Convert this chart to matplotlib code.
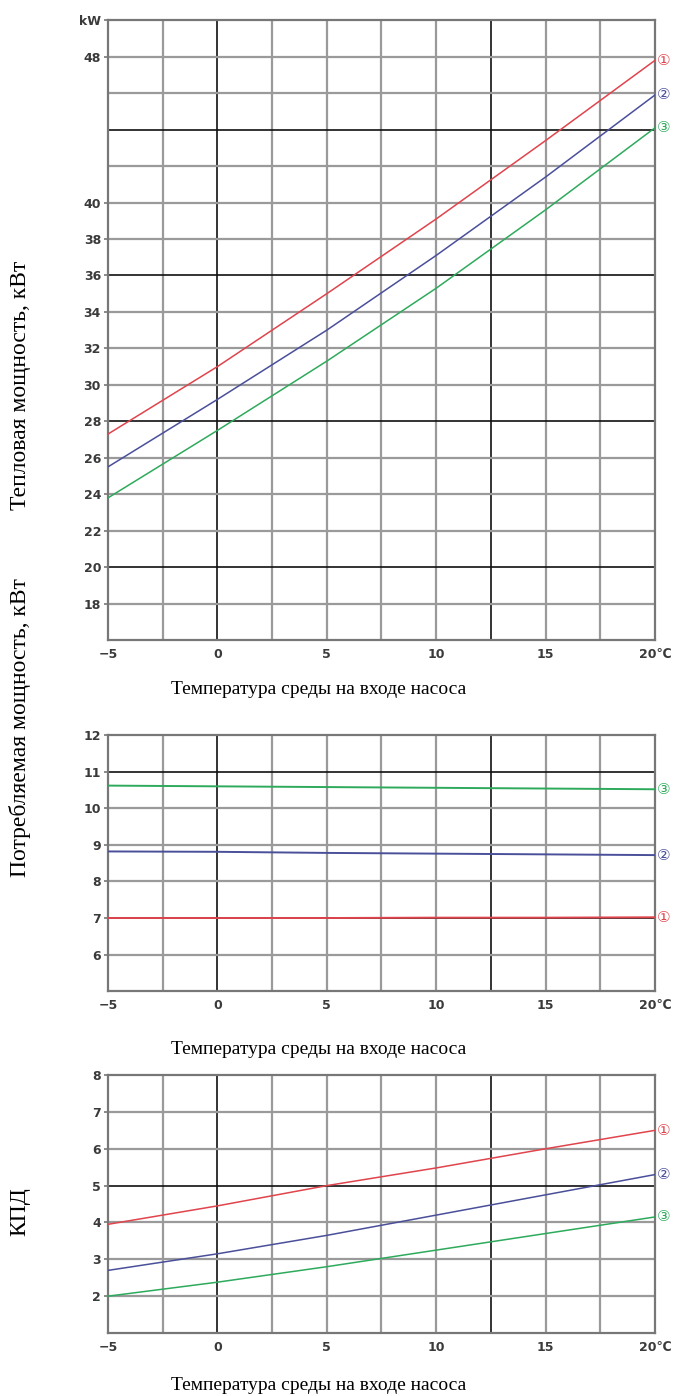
import numpy as np
import matplotlib
matplotlib.use("Agg")
import matplotlib.pyplot as plt

# data
temp = [-5, 0, 5, 10, 15, 20]

heat_1 = [27.3, 31.0, 35.0, 39.1, 43.4, 47.8]
heat_2 = [25.5, 29.2, 33.0, 37.1, 41.4, 45.9]
heat_3 = [23.8, 27.5, 31.3, 35.3, 39.6, 44.1]

power_1 = [7.0, 7.0, 7.0, 7.01, 7.01, 7.02]
power_2 = [8.82, 8.81, 8.78, 8.76, 8.74, 8.72]
power_3 = [10.62, 10.60, 10.58, 10.56, 10.54, 10.52]

cop_1 = [3.95, 4.45, 5.0, 5.48, 6.0, 6.5]
cop_2 = [2.7, 3.15, 3.65, 4.2, 4.75, 5.3]
cop_3 = [2.0, 2.38, 2.8, 3.25, 3.7, 4.15]

series_labels = ["\u2460", "\u2461", "\u2462"]
x_ticks = [-5, 0, 5, 10, 15, 20]
x_ticklabels = ["\u22125", "0", "5", "10", "15", "20\u2103"]
x_title = "Температура среды на входе насоса"

colors = ["#e0444c", "#4a4f9a", "#2eaa5c"]
grid_gray = "#9a9a9a"
grid_dark = "#111111"
serif = ["Liberation Serif", "DejaVu Serif"]


def draw_panel(ax, series, ylim, ystep, dark_y, yticks, yticklabels, lw=1.1):
    ax.set_xlim(-5, 20)
    ax.set_ylim(*ylim)
    # grid
    for xv in np.arange(-2.5, 20, 2.5):
        dark = xv in (0, 12.5)
        ax.axvline(xv, color=grid_dark if dark else grid_gray,
                   lw=1.2 if dark else 1.6, zorder=1)
    for yv in np.arange(ylim[0] + ystep, ylim[1], ystep):
        dark = yv in dark_y
        ax.axhline(yv, color=grid_dark if dark else grid_gray,
                   lw=1.2 if dark else 1.6, zorder=1)
    for s in ax.spines.values():
        s.set_color("#777777")
        s.set_linewidth(1.6)
    for vals, c, lab in zip(series, colors, series_labels):
        ax.plot(temp, vals, color=c, lw=lw, zorder=3)
        ax.annotate(lab, (temp[-1], vals[-1]), xytext=(1.5, 0),
                    textcoords="offset points", va="center", ha="left",
                    color=c, fontsize=11, annotation_clip=False,
                    family=["DejaVu Sans", "Noto Sans CJK SC"])
    ax.set_xticks(x_ticks)
    ax.set_xticklabels(x_ticklabels)
    ax.set_yticks(yticks)
    ax.set_yticklabels(yticklabels)
    ax.tick_params(axis="both", length=3, width=1.2, color="#777777",
                   labelsize=9, labelcolor="#3a3a3a", pad=2)
    for t in ax.get_xticklabels() + ax.get_yticklabels():
        t.set_fontweight("bold")
    ax.tick_params(axis="x", length=0, pad=6)


fig = plt.figure(figsize=(6.77, 13.96), dpi=100)

ax1 = fig.add_axes([0.1595, 0.5415, 0.808, 0.444])
draw_panel(ax1, [heat_1, heat_2, heat_3], (16, 50), 2, (20, 28, 36, 44),
           [18, 20, 22, 24, 26, 28, 30, 32, 34, 36, 38, 40, 48, 50],
           ["18", "20", "22", "24", "26", "28", "30", "32", "34", "36",
            "38", "40", "48", "kW"])

ax2 = fig.add_axes([0.1595, 0.290, 0.808, 0.1834])
draw_panel(ax2, [power_1, power_2, power_3], (5, 12), 1, (7, 11),
           [6, 7, 8, 9, 10, 11, 12], ["6", "7", "8", "9", "10", "11", "12"],
           lw=1.4)

ax3 = fig.add_axes([0.1595, 0.0451, 0.808, 0.1848])
draw_panel(ax3, [cop_1, cop_2, cop_3], (1, 8), 1, (5,),
           [2, 3, 4, 5, 6, 7, 8], ["2", "3", "4", "5", "6", "7", "8"])

# axis titles
for yy in (690 / 1396, 1050 / 1396, 1385 / 1396):
    fig.text(0.47, 1 - yy, x_title, ha="center", va="center",
             fontsize=14, family=serif)

fig.text(0.03, 1 - 385 / 1396, "Тепловая мощность, кВт", rotation=90,
         ha="center", va="center", fontsize=17, family=serif)
fig.text(0.03, 1 - 728 / 1396, "Потребляемая мощность, кВт", rotation=90,
         ha="center", va="center", fontsize=17, family=serif)
fig.text(0.03, 1 - 1212 / 1396, "КПД", rotation=90,
         ha="center", va="center", fontsize=17, family=serif)

fig.savefig("out.png", dpi=100, facecolor="white")
